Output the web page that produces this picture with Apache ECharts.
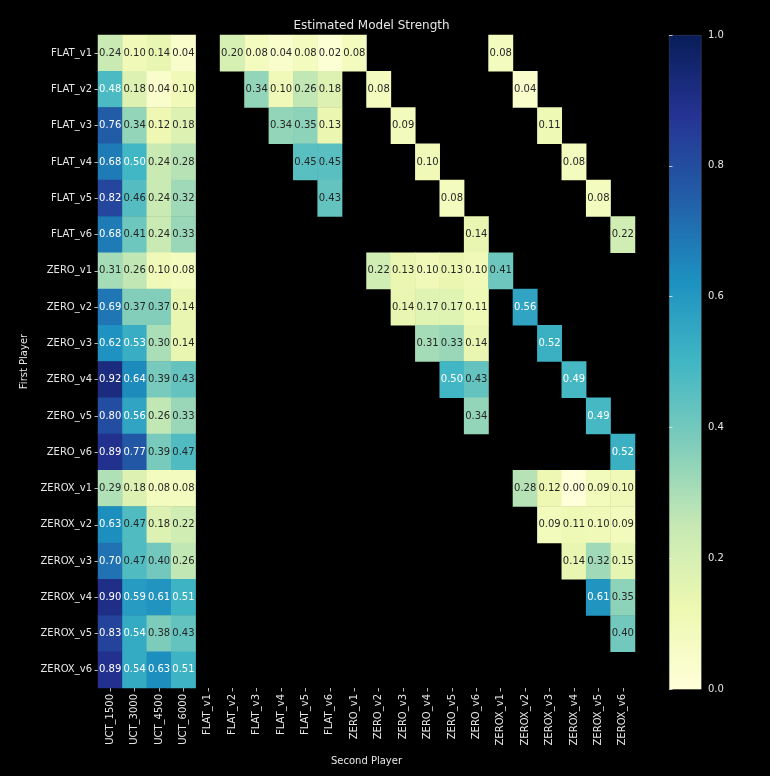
<!DOCTYPE html>
<html>
<head>
<meta charset="utf-8">
<script src="https://cdn.jsdelivr.net/npm/echarts@6/dist/echarts.min.js"></script>
<style>
  html, body { margin: 0; padding: 0; background: #000; }
  #chart { width: 770px; height: 776px; }
</style>
</head>
<body>
<div id="chart"></div>
<script>
// Column players (second player) and row players (first player)
const secondPlayers = [
  'UCT_1500', 'UCT_3000', 'UCT_4500', 'UCT_6000',
  'FLAT_v1', 'FLAT_v2', 'FLAT_v3', 'FLAT_v4', 'FLAT_v5', 'FLAT_v6',
  'ZERO_v1', 'ZERO_v2', 'ZERO_v3', 'ZERO_v4', 'ZERO_v5', 'ZERO_v6',
  'ZEROX_v1', 'ZEROX_v2', 'ZEROX_v3', 'ZEROX_v4', 'ZEROX_v5', 'ZEROX_v6'
];
const firstPlayers = [
  'FLAT_v1', 'FLAT_v2', 'FLAT_v3', 'FLAT_v4', 'FLAT_v5', 'FLAT_v6',
  'ZERO_v1', 'ZERO_v2', 'ZERO_v3', 'ZERO_v4', 'ZERO_v5', 'ZERO_v6',
  'ZEROX_v1', 'ZEROX_v2', 'ZEROX_v3', 'ZEROX_v4', 'ZEROX_v5', 'ZEROX_v6'
];

// One row per first player, one entry per second player; null = not played
const _ = null;
const rowFLAT_v1  = [0.24, 0.10, 0.14, 0.04, _, 0.20, 0.08, 0.04, 0.08, 0.02, 0.08, _, _, _, _, _, 0.08, _, _, _, _, _];
const rowFLAT_v2  = [0.48, 0.18, 0.04, 0.10, _, _, 0.34, 0.10, 0.26, 0.18, _, 0.08, _, _, _, _, _, 0.04, _, _, _, _];
const rowFLAT_v3  = [0.76, 0.34, 0.12, 0.18, _, _, _, 0.34, 0.35, 0.13, _, _, 0.09, _, _, _, _, _, 0.11, _, _, _];
const rowFLAT_v4  = [0.68, 0.50, 0.24, 0.28, _, _, _, _, 0.45, 0.45, _, _, _, 0.10, _, _, _, _, _, 0.08, _, _];
const rowFLAT_v5  = [0.82, 0.46, 0.24, 0.32, _, _, _, _, _, 0.43, _, _, _, _, 0.08, _, _, _, _, _, 0.08, _];
const rowFLAT_v6  = [0.68, 0.41, 0.24, 0.33, _, _, _, _, _, _, _, _, _, _, _, 0.14, _, _, _, _, _, 0.22];
const rowZERO_v1  = [0.31, 0.26, 0.10, 0.08, _, _, _, _, _, _, _, 0.22, 0.13, 0.10, 0.13, 0.10, 0.41, _, _, _, _, _];
const rowZERO_v2  = [0.69, 0.37, 0.37, 0.14, _, _, _, _, _, _, _, _, 0.14, 0.17, 0.17, 0.11, _, 0.56, _, _, _, _];
const rowZERO_v3  = [0.62, 0.53, 0.30, 0.14, _, _, _, _, _, _, _, _, _, 0.31, 0.33, 0.14, _, _, 0.52, _, _, _];
const rowZERO_v4  = [0.92, 0.64, 0.39, 0.43, _, _, _, _, _, _, _, _, _, _, 0.50, 0.43, _, _, _, 0.49, _, _];
const rowZERO_v5  = [0.80, 0.56, 0.26, 0.33, _, _, _, _, _, _, _, _, _, _, _, 0.34, _, _, _, _, 0.49, _];
const rowZERO_v6  = [0.89, 0.77, 0.39, 0.47, _, _, _, _, _, _, _, _, _, _, _, _, _, _, _, _, _, 0.52];
const rowZEROX_v1 = [0.29, 0.18, 0.08, 0.08, _, _, _, _, _, _, _, _, _, _, _, _, _, 0.28, 0.12, 0.00, 0.09, 0.10];
const rowZEROX_v2 = [0.63, 0.47, 0.18, 0.22, _, _, _, _, _, _, _, _, _, _, _, _, _, _, 0.09, 0.11, 0.10, 0.09];
const rowZEROX_v3 = [0.70, 0.47, 0.40, 0.26, _, _, _, _, _, _, _, _, _, _, _, _, _, _, _, 0.14, 0.32, 0.15];
const rowZEROX_v4 = [0.90, 0.59, 0.61, 0.51, _, _, _, _, _, _, _, _, _, _, _, _, _, _, _, _, 0.61, 0.35];
const rowZEROX_v5 = [0.83, 0.54, 0.38, 0.43, _, _, _, _, _, _, _, _, _, _, _, _, _, _, _, _, _, 0.40];
const rowZEROX_v6 = [0.89, 0.54, 0.63, 0.51, _, _, _, _, _, _, _, _, _, _, _, _, _, _, _, _, _, _];

const strengthRows = [
  rowFLAT_v1, rowFLAT_v2, rowFLAT_v3, rowFLAT_v4, rowFLAT_v5, rowFLAT_v6,
  rowZERO_v1, rowZERO_v2, rowZERO_v3, rowZERO_v4, rowZERO_v5, rowZERO_v6,
  rowZEROX_v1, rowZEROX_v2, rowZEROX_v3, rowZEROX_v4, rowZEROX_v5, rowZEROX_v6
];

const colorbarTicks = [0.0, 0.2, 0.4, 0.6, 0.8, 1.0];

// YlGnBu colour ramp
const ylGnBu = ['#ffffd9', '#edf8b1', '#c7e9b4', '#7fcdbb', '#41b6c4', '#1d91c0', '#225ea8', '#253494', '#081d58'];

const FONT = 'DejaVu Sans';
const TEXT = '#e6e6e6';

// Build heatmap items; dark cells get white annotations
const cells = [];
strengthRows.forEach((row, r) => {
  row.forEach((v, c) => {
    if (v === null) return;
    cells.push({
      value: [c, r, v],
      label: { color: v >= 0.48 ? '#ffffff' : '#262626' }
    });
  });
});

const chart = echarts.init(document.getElementById('chart'), null, { renderer: 'canvas' });

const plot = { left: 98, top: 35, width: 537, height: 653 };
const bar = { left: 669, top: 35, width: 32, height: 654 };

// Colour bar gradient, 0 at the bottom and 1 at the top
const barGradient = new echarts.graphic.LinearGradient(0, 1, 0, 0,
  ylGnBu.map((c, i) => ({ offset: i / (ylGnBu.length - 1), color: c })));

chart.setOption({
  backgroundColor: '#000000',
  animation: false,
  title: {
    text: 'Estimated Model Strength',
    left: plot.left + plot.width / 2,
    textAlign: 'center',
    top: 15,
    textStyle: { color: TEXT, fontFamily: FONT, fontSize: 12, fontWeight: 'normal' }
  },
  grid: [
    { left: plot.left, top: plot.top, width: plot.width, height: plot.height, containLabel: false },
    { left: bar.left, top: bar.top, width: bar.width, height: bar.height, containLabel: false }
  ],
  graphic: [
    {
      type: 'rect',
      left: bar.left,
      top: bar.top,
      z: 0,
      shape: { width: bar.width, height: bar.height },
      style: { fill: barGradient, stroke: 'rgba(200,200,200,0.25)', lineWidth: 0.6 },
      silent: true
    }
  ],
  xAxis: [
    {
      type: 'category',
      gridIndex: 0,
      data: secondPlayers,
      position: 'bottom',
      name: 'Second Player',
      nameLocation: 'middle',
      nameGap: 68,
      nameTextStyle: { color: TEXT, fontFamily: FONT, fontSize: 10 },
      axisLine: { show: false },
      axisTick: { show: true, alignWithLabel: true, length: 3.5, lineStyle: { color: TEXT, width: 0.8 } },
      axisLabel: { rotate: 90, color: TEXT, fontFamily: FONT, fontSize: 10, margin: 6, interval: 0 },
      splitLine: { show: false },
      splitArea: { show: false }
    },
    { type: 'value', gridIndex: 1, show: false, min: 0, max: 1 }
  ],
  yAxis: [
    {
      type: 'category',
      gridIndex: 0,
      data: firstPlayers,
      inverse: true,
      name: 'First Player',
      nameLocation: 'middle',
      nameGap: 66,
      nameRotate: 90,
      nameTextStyle: { color: TEXT, fontFamily: FONT, fontSize: 10 },
      axisLine: { show: false },
      axisTick: { show: true, alignWithLabel: true, length: 3.5, lineStyle: { color: TEXT, width: 0.8 } },
      axisLabel: { color: TEXT, fontFamily: FONT, fontSize: 10, margin: 6, interval: 0 },
      splitLine: { show: false },
      splitArea: { show: false }
    },
    {
      type: 'value',
      gridIndex: 1,
      position: 'right',
      min: 0,
      max: 1,
      interval: 0.2,
      axisLine: { show: false },
      axisTick: { show: true, inside: false, length: 3.5, lineStyle: { color: TEXT, width: 0.8 } },
      axisLabel: {
        color: TEXT, fontFamily: FONT, fontSize: 10, margin: 7,
        formatter: v => colorbarTicks.includes(Math.round(v * 10) / 10) ? v.toFixed(1) : ''
      },
      splitLine: { show: false }
    }
  ],
  visualMap: {
    type: 'continuous',
    show: false,
    min: 0,
    max: 1,
    seriesIndex: 0,
    inRange: { color: ylGnBu }
  },
  series: [
    {
      type: 'heatmap',
      xAxisIndex: 0,
      yAxisIndex: 0,
      data: cells,
      label: {
        show: true,
        fontFamily: FONT,
        fontSize: 10,
        formatter: p => p.value[2].toFixed(2)
      },
      itemStyle: { borderWidth: 0 },
      emphasis: { disabled: true }
    },
    {
      type: 'scatter',
      xAxisIndex: 1,
      yAxisIndex: 1,
      data: [],
      silent: true
    }
  ]
});
</script>
</body>
</html>
